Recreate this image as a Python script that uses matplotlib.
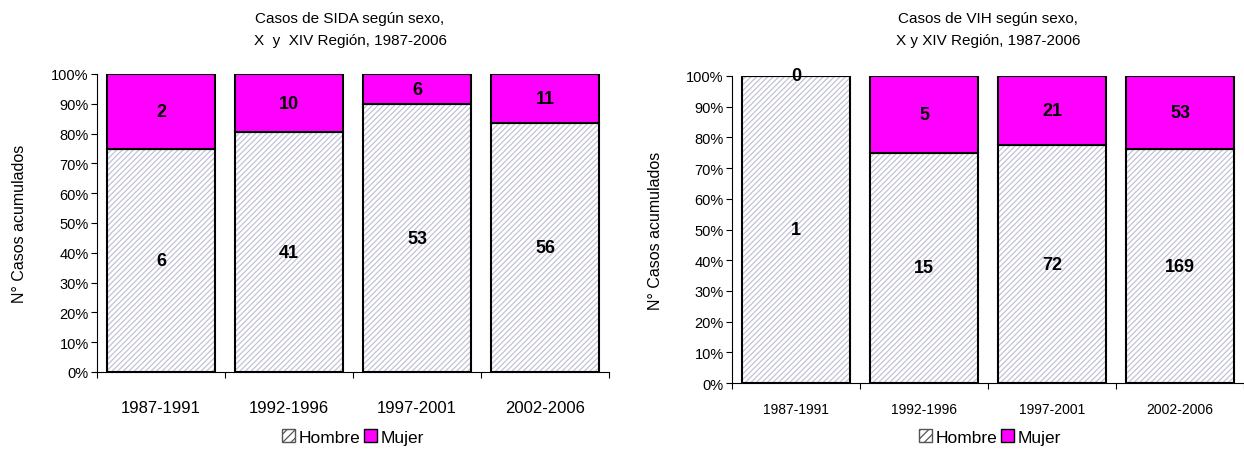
import numpy as np
import matplotlib.pyplot as plt
from matplotlib.patches import Patch

periodos = ["1987-1991", "1992-1996", "1997-2001", "2002-2006"]

# SIDA
sida_hombre = [6, 41, 53, 56]
sida_mujer = [2, 10, 6, 11]

# VIH
vih_hombre = [1, 15, 72, 169]
vih_mujer = [0, 5, 21, 53]

titulos = ["Casos de SIDA según sexo,\nX  y  XIV Región, 1987-2006",
           "Casos de VIH según sexo,\nX y XIV Región, 1987-2006"]

plt.rcParams['font.family'] = ['Liberation Sans', 'DejaVu Sans']
plt.rcParams['hatch.linewidth'] = 0.9

fig = plt.figure(figsize=(12.44, 4.77), dpi=100)
W, H = 1244, 477

# axes positions in pixels: left, top, right, bottom
boxes = [(97, 75, 609, 373), (732, 77, 1244, 384)]
xlims = [(-0.5, 3.5), (-0.5, 3.47)]
tick_fs = [12, 10]
tick_pad = [20, 14]
ylabel_x = [20, 655]
legend_x = [353, 990]
title_x = [350, 988]

hatch_col = "#c2c2d8"
magenta = "#ff00ff"

for k, (hombre, mujer) in enumerate([(sida_hombre, sida_mujer), (vih_hombre, vih_mujer)]):
    l, t, r, b = boxes[k]
    ax = fig.add_axes([l / W, 1 - b / H, (r - l) / W, (b - t) / H])
    h = np.array(hombre, dtype=float)
    m = np.array(mujer, dtype=float)
    tot = h + m
    ph = h / tot * 100
    pm = m / tot * 100
    x = np.arange(len(periodos))
    w = 0.84

    ax.bar(x, ph, w, color="white", edgecolor=hatch_col, hatch="//////", linewidth=0)
    ax.bar(x, ph, w, color="none", edgecolor="black", linewidth=1.5)
    ax.bar(x, pm, w, bottom=ph, color=magenta, edgecolor="black", linewidth=1.5)

    for i in range(len(x)):
        ax.text(x[i], ph[i] / 2, str(hombre[i]), ha="center", va="center",
                fontsize=13, fontweight="bold")
        ax.text(x[i], ph[i] + pm[i] / 2, str(mujer[i]), ha="center", va="center",
                fontsize=13, fontweight="bold")

    ax.set_xlim(*xlims[k])
    ax.set_ylim(0, 100)
    ax.set_yticks(np.arange(0, 101, 10))
    ax.set_yticklabels([f"{v}%" for v in range(0, 101, 10)], fontsize=10.5)
    ax.set_xticks(np.arange(-0.5, 4, 1), minor=False)
    ax.set_xticklabels([])
    ax.set_xticks(x, minor=True)
    ax.set_xticklabels(periodos, minor=True, fontsize=tick_fs[k])
    ax.tick_params(axis="x", which="minor", length=0, pad=tick_pad[k])
    ax.tick_params(axis="x", which="major", length=4, direction="out")
    ax.tick_params(axis="y", length=4, direction="out", pad=2)
    for s in ["top", "right"]:
        ax.spines[s].set_visible(False)
    ax.spines["left"].set_linewidth(0.8)
    ax.spines["bottom"].set_linewidth(0.8)

    fig.text(title_x[k] / W, 1 - 30 / H, titulos[k], ha="center", va="center",
             fontsize=11, linespacing=1.65)
    fig.text(ylabel_x[k] / W, 1 - ((t + b) / 2) / H, "N° Casos acumulados",
             rotation=90, ha="center", va="center", fontsize=11.5)

    handles = [Patch(facecolor="white", edgecolor="#555555", hatch="////"),
               Patch(facecolor=magenta, edgecolor="black")]
    fig.legend(handles, ["Hombre", "Mujer"], loc="center",
               bbox_to_anchor=(legend_x[k] / W, 1 - 438 / H), ncol=2, frameon=False,
               fontsize=12.5, handlelength=0.75, handleheight=0.75,
               handletextpad=0.2, columnspacing=0.2)

fig.savefig("out.png", dpi=100)
